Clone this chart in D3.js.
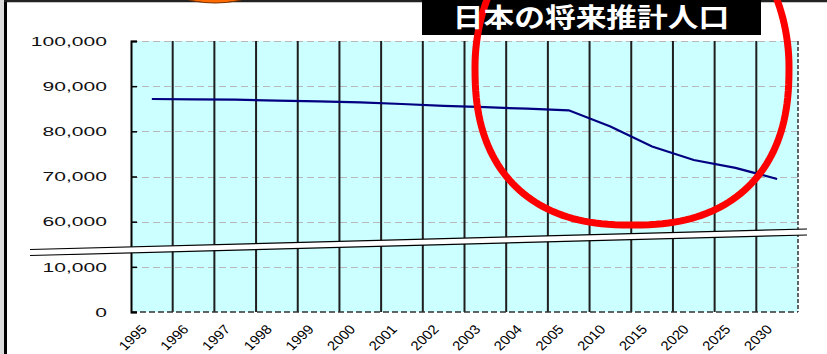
<!DOCTYPE html>
<html>
<head>
<meta charset="utf-8">
<script src="https://cdn.jsdelivr.net/npm/d3@7"></script>
<style>
  html, body { margin: 0; padding: 0; background: #ffffff; }
  svg { display: block; }
</style>
</head>
<body>
<svg id="chart" width="827" height="354"></svg>
<script>
// Working-age population projection (thousands of people)
const years = ["1995","1996","1997","1998","1999","2000","2001","2002","2003","2004","2005","2010","2015","2020","2025","2030"];
const population = [87160, 87090, 87000, 86820, 86620, 86430, 86050, 85650, 85340, 85010, 84650, 81070, 76640, 73650, 71920, 69440];
const yTicks = [0, 10000, 60000, 70000, 80000, 90000, 100000];
const yTickLabels = ["0", "10,000", "60,000", "70,000", "80,000", "90,000", "100,000"];
const title = "日本の将来推計人口";

const svg = d3.select("#chart");
const W = 827, H = 354;
const plot = { left: 131, right: 798, top: 41, bottom: 312 };

// Broken value axis: 0–10,000 then a jump to 60,000–100,000, equal spacing per tick
const step = (plot.bottom - plot.top) / 6;
const y = d3.scaleLinear()
  .domain([0, 10000, 60000, 100000])
  .range([plot.bottom, plot.bottom - step, plot.bottom - 2 * step, plot.top]);

const x = d3.scaleBand().domain(years).range([plot.left, plot.right]).padding(0);

// Page frame
svg.append("rect").attr("x", 0).attr("y", 0).attr("width", W).attr("height", H).attr("fill", "#ffffff");
svg.append("rect").attr("x", 0).attr("y", 0).attr("width", 4).attr("height", H).attr("fill", "#dcdcdc");
svg.append("line").attr("x1", 5.5).attr("x2", 5.5).attr("y1", 0).attr("y2", H).attr("stroke", "#000").attr("stroke-width", 3);
svg.append("line").attr("x1", 4).attr("x2", W).attr("y1", 1).attr("y2", 1).attr("stroke", "#222").attr("stroke-width", 2.5);

// Orange shape peeking in at the top edge
svg.append("ellipse")
  .attr("cx", 215).attr("cy", -25).attr("rx", 58).attr("ry", 28)
  .attr("fill", "#ff6a00").attr("stroke", "#7a3000").attr("stroke-width", 1);

// Plot background
svg.append("rect")
  .attr("x", plot.left).attr("y", plot.top)
  .attr("width", plot.right - plot.left).attr("height", plot.bottom - plot.top)
  .attr("fill", "#ccffff");

// Horizontal dashed gridlines
svg.append("g").selectAll("line")
  .data(yTicks.filter(t => t > 0))
  .join("line")
  .attr("x1", plot.left).attr("x2", plot.right)
  .attr("y1", d => Math.round(y(d)) + 0.5).attr("y2", d => Math.round(y(d)) + 0.5)
  .attr("stroke", "#b8b8b8").attr("stroke-width", 1)
  .attr("stroke-dasharray", "7,4");

// Vertical category dividers
svg.append("g").selectAll("line")
  .data(years.slice(1))
  .join("line")
  .attr("x1", d => x(d)).attr("x2", d => x(d))
  .attr("y1", plot.top).attr("y2", plot.bottom)
  .attr("stroke", "#1e1e1e").attr("stroke-width", 2);

// Right edge and baseline (dashed)
svg.append("line")
  .attr("x1", plot.right).attr("x2", plot.right).attr("y1", plot.top).attr("y2", plot.bottom)
  .attr("stroke", "#333").attr("stroke-width", 1.5).attr("stroke-dasharray", "4,2");
svg.append("line")
  .attr("x1", plot.left).attr("x2", plot.right).attr("y1", plot.bottom).attr("y2", plot.bottom)
  .attr("stroke", "#333").attr("stroke-width", 1.5).attr("stroke-dasharray", "6,3");

// Value axis with inside ticks
const yAxis = d3.axisLeft(y).tickValues(yTicks).tickSize(-6).tickFormat("");
const gy = svg.append("g").attr("transform", `translate(${plot.left},0)`).call(yAxis);
gy.select(".domain").attr("stroke", "#000").attr("stroke-width", 2);
gy.selectAll(".tick line").attr("stroke", "#000").attr("stroke-width", 1.5);

// Value labels (wide face)
svg.append("g").selectAll("text")
  .data(yTicks)
  .join("text")
  .attr("transform", d => `translate(107,${y(d)}) scale(1.62,1)`)
  .attr("dy", "0.36em")
  .attr("text-anchor", "end")
  .attr("font-family", "Liberation Sans, Arial, sans-serif")
  .attr("font-size", 13)
  .attr("fill", "#111")
  .text((d, i) => yTickLabels[i]);

// Category labels (slanted)
svg.append("g").selectAll("text")
  .data(years)
  .join("text")
  .attr("transform", d => `translate(${x(d) + x.bandwidth() / 2 - 4},330) scale(1.15,1) rotate(-47)`)
  .attr("text-anchor", "end")
  .attr("font-family", "Liberation Sans, Arial, sans-serif")
  .attr("font-size", 13)
  .attr("fill", "#000")
  .text(d => d);

// Population line
const line = d3.line()
  .x((d, i) => x(years[i]) + x.bandwidth() / 2)
  .y(d => y(d));
svg.append("path")
  .datum(population)
  .attr("d", line)
  .attr("fill", "none")
  .attr("stroke", "#000080")
  .attr("stroke-width", 2.2);

// Axis break band
const bx0 = 30, bx1 = 807;
const topL = 249.5, topR = 229, gap = 6;
svg.append("path")
  .attr("d", `M${bx0},${topL} L${bx1},${topR} L${bx1},${topR + gap} L${bx0},${topL + gap} Z`)
  .attr("fill", "#ffffff");
svg.append("line").attr("x1", bx0).attr("y1", topL).attr("x2", bx1).attr("y2", topR)
  .attr("stroke", "#000").attr("stroke-width", 1.2);
svg.append("line").attr("x1", bx0).attr("y1", topL + gap).attr("x2", bx1).attr("y2", topR + gap)
  .attr("stroke", "#000").attr("stroke-width", 1.2);

// Title box
svg.append("rect")
  .attr("x", 422).attr("y", -2).attr("width", 339).attr("height", 37)
  .attr("fill", "#000");

// Red hand-drawn highlight loop: taller elliptical upper half, fuller lower half
const loop = { cx: 632, cy: 67, rx: 157, ryTop: 176, ryBottom: 158, n: 2.4 };
const loopPts = d3.range(0, 361, 2).map(deg => {
  const t = deg * Math.PI / 180;
  const c = Math.cos(t), s = Math.sin(t);
  if (s < 0) {
    return [loop.cx + loop.rx * c, loop.cy + loop.ryTop * s];
  }
  const e = 2 / loop.n;
  return [loop.cx + loop.rx * Math.sign(c) * Math.pow(Math.abs(c), e),
          loop.cy + loop.ryBottom * Math.pow(s, e)];
});
svg.append("path")
  .attr("d", d3.line().curve(d3.curveLinearClosed)(loopPts))
  .attr("fill", "none").attr("stroke", "#ff0000").attr("stroke-width", 7);

// Title text
svg.append("text")
  .attr("transform", "translate(591,27) scale(1.16,1)")
  .attr("text-anchor", "middle")
  .attr("font-family", "Noto Sans CJK JP, sans-serif")
  .attr("font-weight", "bold")
  .attr("font-size", 26.5)
  .attr("fill", "#ffffff")
  .text(title);
</script>
</body>
</html>
